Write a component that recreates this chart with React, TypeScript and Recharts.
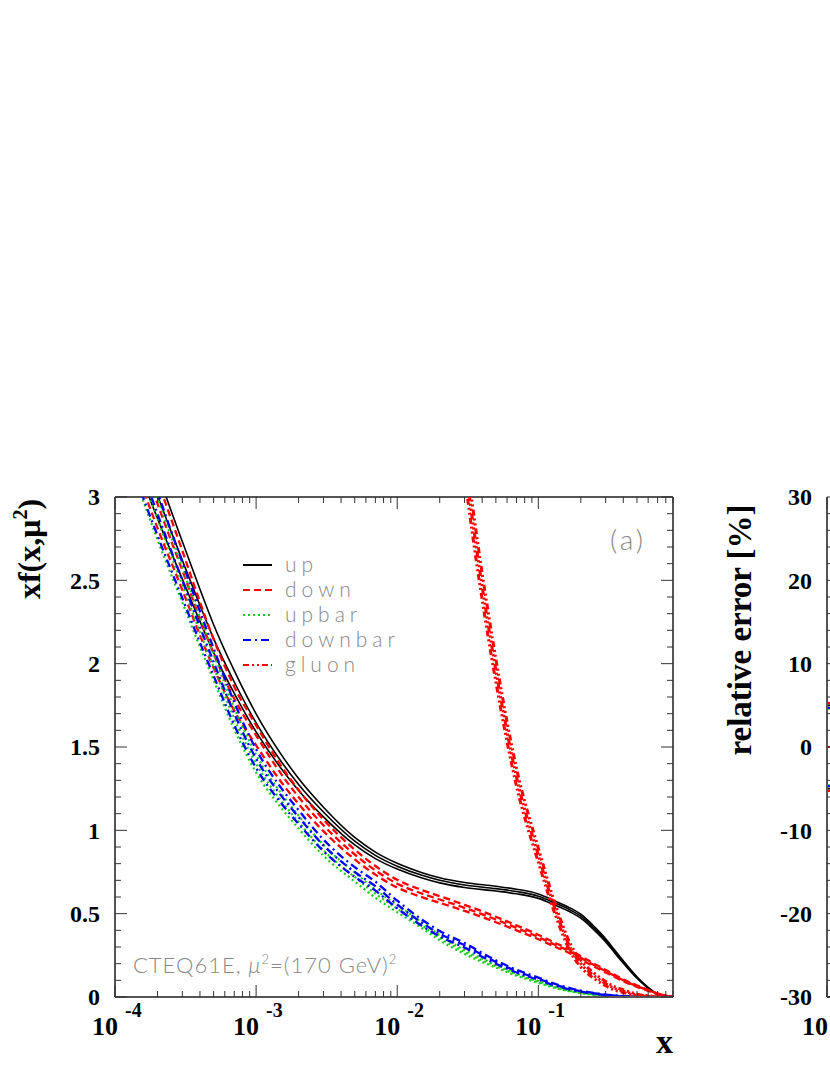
import React from 'react';
import { LineChart, Line, XAxis, YAxis, ReferenceLine } from 'recharts';

// sample points in x (log grid) and the central PDFs
const xs = [1e-4, 1.5e-4, 2e-4, 3e-4, 4e-4, 5e-4, 7e-4, 1e-3, 1.5e-3, 2e-3, 3e-3, 5e-3, 7e-3, 0.01, 0.015, 0.02, 0.03, 0.05, 0.07, 0.1, 0.13, 0.17, 0.2, 0.25, 0.3, 0.35, 0.4, 0.5, 0.6, 0.7, 0.8, 0.9];
const up = [3.85, 3.31, 3.01, 2.62, 2.35, 2.15, 1.89, 1.645, 1.415, 1.275, 1.11, 0.935, 0.85, 0.785, 0.73, 0.7, 0.672, 0.65, 0.633, 0.605, 0.565, 0.52, 0.485, 0.41, 0.34, 0.27, 0.21, 0.117, 0.055, 0.015, 0, 0];
const down = [3.8, 3.27, 2.96, 2.56, 2.27, 2.06, 1.79, 1.57, 1.34, 1.2, 1.03, 0.855, 0.76, 0.68, 0.62, 0.585, 0.535, 0.465, 0.415, 0.36, 0.315, 0.27, 0.235, 0.19, 0.155, 0.125, 0.1, 0.065, 0.04, 0.02, 0.008, 0.003];
const upbar = [3.7, 3.18, 2.87, 2.47, 2.19, 1.98, 1.67, 1.4, 1.18, 1.05, 0.88, 0.72, 0.62, 0.53, 0.43, 0.355, 0.27, 0.185, 0.135, 0.09, 0.06, 0.035, 0.025, 0.014, 0.008, 0.005, 0.003, 0.001, 0, 0, 0, 0];
const downbar = [3.72, 3.2, 2.9, 2.5, 2.22, 2.01, 1.7, 1.43, 1.21, 1.08, 0.91, 0.75, 0.665, 0.555, 0.445, 0.38, 0.31, 0.21, 0.155, 0.11, 0.075, 0.048, 0.035, 0.022, 0.013, 0.008, 0.005, 0.002, 0.001, 0, 0, 0];
const gluon = [null, null, null, null, null, null, null, null, null, null, null, null, null, null, null, 4.6, 3.23, 1.96, 1.32, 0.85, 0.54, 0.29, 0.2, 0.125, 0.08, 0.05, 0.035, 0.013, 0.005, 0.001, 0, 0];

// relative errors (fraction) of each pdf
const upErr = [0.05, 0.048, 0.046, 0.043, 0.041, 0.039, 0.036, 0.033, 0.03, 0.028, 0.026, 0.024, 0.023, 0.022, 0.022, 0.022, 0.022, 0.022, 0.022, 0.022, 0.022, 0.023, 0.024, 0.026, 0.028, 0.031, 0.034, 0.04, 0.05, 0.06, 0.07, 0.08];
const downErr = [0.053, 0.051, 0.049, 0.046, 0.044, 0.042, 0.04, 0.038, 0.036, 0.035, 0.034, 0.034, 0.034, 0.034, 0.034, 0.034, 0.034, 0.035, 0.036, 0.037, 0.038, 0.04, 0.042, 0.045, 0.05, 0.055, 0.06, 0.07, 0.08, 0.1, 0.12, 0.15];
const upbarErr = [0.046, 0.045, 0.044, 0.042, 0.041, 0.04, 0.039, 0.038, 0.037, 0.037, 0.037, 0.038, 0.039, 0.04, 0.041, 0.042, 0.044, 0.048, 0.052, 0.06, 0.07, 0.08, 0.09, 0.1, 0.12, 0.14, 0.16, 0.2, 0.25, 0.3, 0.35, 0.4];
const downbarErr = [0.047, 0.046, 0.045, 0.043, 0.042, 0.041, 0.04, 0.039, 0.038, 0.038, 0.038, 0.039, 0.04, 0.041, 0.042, 0.043, 0.045, 0.049, 0.053, 0.06, 0.07, 0.08, 0.09, 0.1, 0.12, 0.14, 0.16, 0.2, 0.25, 0.3, 0.35, 0.4];
const gluonErr = [0.053, 0.05, 0.048, 0.045, 0.043, 0.041, 0.039, 0.037, 0.035, 0.034, 0.033, 0.032, 0.031, 0.03, 0.03, 0.03, 0.03, 0.035, 0.04, 0.05, 0.06, 0.08, 0.1, 0.13, 0.16, 0.2, 0.24, 0.3, 0.4, 0.5, 0.6, 0.7];

const decades = [1e-4, 1e-3, 1e-2, 1e-1];
const xTicks = decades.flatMap((d) => [1, 2, 3, 4, 5, 6, 7, 8, 9].map((m) => m * d)).filter((v) => v <= 0.9001);
const yTicks = Array.from({ length: 31 }, (_, i) => i / 10);
const yTicksRel = Array.from({ length: 31 }, (_, i) => -30 + i * 2);

const SERIF = '"Liberation Serif", "Times New Roman", serif';
const SANS = 'Lato, "DejaVu Sans", sans-serif';
const FRAME = '#555';
const TICK = '#333';

const series = [
  { key: 'up', name: 'up', vals: up, err: upErr, color: '#000000', dash: undefined, width: 1.6 },
  { key: 'down', name: 'down', vals: down, err: downErr, color: '#ff0000', dash: '7 4', width: 2.3 },
  { key: 'upbar', name: 'upbar', vals: upbar, err: upbarErr, color: '#19cc19', dash: '2 3', width: 2.2 },
  { key: 'downbar', name: 'downbar', vals: downbar, err: downbarErr, color: '#0000ff', dash: '8 4 2 4', width: 2.3 },
  { key: 'gluon', name: 'gluon', vals: gluon, err: gluonErr, color: '#ff0000', dash: '6 3 2 3 2 3', width: 3 },
];

const rows = xs.map((x, i) => {
  const r: any = { x };
  series.forEach((s) => {
    const v = s.vals[i];
    r[s.key] = v;
    r[s.key + 'Hi'] = v == null ? null : v * (1 + s.err[i]);
    r[s.key + 'Lo'] = v == null ? null : v * (1 - s.err[i]);
  });
  return r;
});

const relRows = xs.map((x, i) => {
  const r: any = { x, zero: 0 };
  series.forEach((s) => {
    r[s.key + 'P'] = s.err[i] * 100;
    r[s.key + 'M'] = -s.err[i] * 100;
  });
  return r;
});

const XTick = (props: any) => {
  const { x, y, payload, plotH, firstOnly } = props;
  const v = payload.value;
  const lg = Math.log10(v);
  const major = Math.abs(lg - Math.round(lg)) < 1e-6;
  const len = major ? 12 : 6;
  const isFirst = Math.round(lg) === -4;
  return (
    <g>
      <line x1={x} x2={x} y1={y} y2={y - len} stroke={TICK} strokeWidth={1} />
      <line x1={x} x2={x} y1={y - plotH} y2={y - plotH + len} stroke={TICK} strokeWidth={1} />
      {major && !firstOnly && (
        <g fontFamily={SERIF} fontWeight={700} fill="#000">
          <text x={x + 3} y={y + 38} fontSize={26} textAnchor="end">10</text>
          <text x={x + 10} y={y + 20} fontSize={20} textAnchor="start">{String(Math.round(lg))}</text>
        </g>
      )}
      {major && firstOnly && isFirst && (
        <text x={x + 1} y={y + 38} fontSize={26} textAnchor="end" fontFamily={SERIF} fontWeight={700} fill="#000">10</text>
      )}
    </g>
  );
};

const YTick = (props: any) => {
  const { x, y, payload, plotW, step } = props;
  const v = payload.value;
  const major = Math.abs(v / step - Math.round(v / step)) < 1e-6;
  const len = major ? 12 : 6;
  return (
    <g>
      <line x1={x} x2={x + len} y1={y} y2={y} stroke={TICK} strokeWidth={1} />
      <line x1={x + plotW} x2={x + plotW - len} y1={y} y2={y} stroke={TICK} strokeWidth={1} />
      {major && (
        <text x={x - 15} y={y} dy="0.35em" textAnchor="end" fontFamily={SERIF} fontWeight={700} fontSize={24} fill="#000">
          {String(Number(v.toFixed(1)))}
        </text>
      )}
    </g>
  );
};

function bandLines(s: any) {
  return ['Lo', '', 'Hi'].map((suf) => (
    <Line
      key={s.key + suf}
      dataKey={s.key + suf}
      type="monotone"
      stroke={s.color}
      strokeWidth={s.width}
      strokeDasharray={s.dash}
      dot={false}
      activeDot={false}
      isAnimationActive={false}
    />
  ));
}

function relLines(s: any) {
  return ['P', 'M'].map((suf) => (
    <Line
      key={s.key + suf}
      dataKey={s.key + suf}
      type="monotone"
      stroke={s.color}
      strokeWidth={2}
      dot={false}
      activeDot={false}
      isAnimationActive={false}
    />
  ));
}

export default function App() {
  return (
    <div style={{ position: 'absolute', left: 0, top: 0, width: 830, height: 1075, overflow: 'hidden', background: '#fff' }}>
      <div style={{ position: 'absolute', left: 0, top: 0 }}>
        <LineChart width={700} height={1075} data={rows} margin={{ top: 497, right: 27, bottom: 77, left: 114 }}>
          <XAxis
            dataKey="x"
            type="number"
            scale="log"
            domain={[1e-4, 0.9]}
            allowDataOverflow
            ticks={xTicks}
            interval={0}
            height={1}
            tickSize={0}
            tickMargin={0}
            tickLine={false}
            axisLine={{ stroke: FRAME, strokeWidth: 2 }}
            tick={<XTick plotH={500} />}
          />
          <YAxis
            type="number"
            domain={[0, 3]}
            allowDataOverflow
            ticks={yTicks}
            interval={0}
            width={1}
            tickSize={0}
            tickMargin={0}
            tickLine={false}
            axisLine={{ stroke: FRAME, strokeWidth: 2 }}
            tick={<YTick plotW={558} step={0.5} />}
          />
          <ReferenceLine y={3} stroke={FRAME} strokeWidth={2} />
          <ReferenceLine x={0.9} stroke={FRAME} strokeWidth={2} />
          {series.map((s) => bandLines(s))}
        </LineChart>
      </div>

      <div style={{ position: 'absolute', left: 700, top: 0 }}>
        <LineChart width={700} height={1075} data={relRows} margin={{ top: 497, right: 27, bottom: 77, left: 126 }}>
          <XAxis
            dataKey="x"
            type="number"
            scale="log"
            domain={[1e-4, 0.9]}
            allowDataOverflow
            ticks={xTicks}
            interval={0}
            height={1}
            tickSize={0}
            tickMargin={0}
            tickLine={false}
            axisLine={{ stroke: FRAME, strokeWidth: 2 }}
            tick={<XTick plotH={500} firstOnly />}
          />
          <YAxis
            type="number"
            domain={[-30, 30]}
            allowDataOverflow
            ticks={yTicksRel}
            interval={0}
            width={1}
            tickSize={0}
            tickMargin={0}
            tickLine={false}
            axisLine={{ stroke: FRAME, strokeWidth: 2 }}
            tick={<YTick plotW={546} step={10} />}
          />
          {series.map((s) => relLines(s))}
          <Line dataKey="zero" type="monotone" stroke="#0000ff" strokeWidth={2} dot={false} activeDot={false} isAnimationActive={false} />
          <Line dataKey="zero" type="monotone" stroke="#ff0000" strokeWidth={2} strokeDasharray="4 4" dot={false} activeDot={false} isAnimationActive={false} />
        </LineChart>
      </div>

      <svg width={830} height={1075} style={{ position: 'absolute', left: 0, top: 0, pointerEvents: 'none' }}>
        <text transform="translate(40,549) rotate(-90)" textAnchor="middle" fontFamily={SERIF} fontWeight={700} fontSize={32} fill="#000">
          xf(x,μ<tspan dy={-13} fontSize={20}>2</tspan><tspan dy={13}>)</tspan>
        </text>
        <text transform="translate(751,630) rotate(-90)" textAnchor="middle" fontFamily={SERIF} fontWeight={700} fontSize={33} fill="#000">
          relative error [%]
        </text>
        <text x={673} y={1053} textAnchor="end" fontFamily={SERIF} fontWeight={700} fontSize={34} fill="#000">x</text>

        <text x={628} y={550} textAnchor="middle" fontFamily={SANS} fontWeight={300} fontSize={28} letterSpacing={3} fill="#888">(a)</text>
        <text x={133} y={973} fontFamily={SANS} fontWeight={300} fontSize={22} letterSpacing={1} fill="#888">
          CTEQ61E, <tspan fontStyle="italic">μ</tspan><tspan dy={-9} fontSize={13}>2</tspan><tspan dy={9}>=(170 GeV)</tspan><tspan dy={-9} fontSize={13}>2</tspan>
        </text>

        {series.map((s, i) => {
          const ly = 565 + i * 25;
          return (
            <g key={s.key}>
              <line x1={243} x2={272} y1={ly} y2={ly} stroke={s.color} strokeWidth={2} strokeDasharray={s.dash} />
              <text x={285} y={ly + 7} fontFamily={SANS} fontWeight={300} fontSize={21} letterSpacing={5} fill="#888">{s.name}</text>
            </g>
          );
        })}
      </svg>
    </div>
  );
}
